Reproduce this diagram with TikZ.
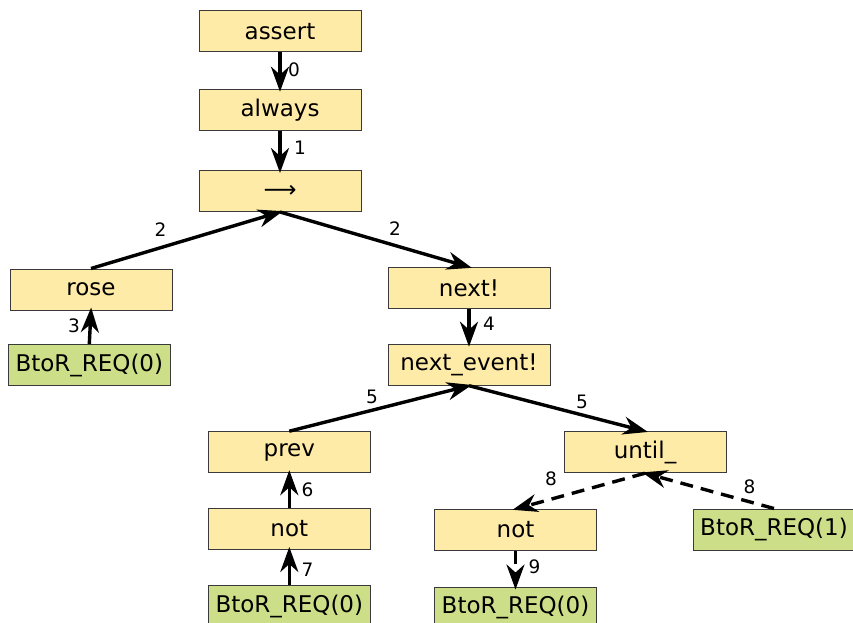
\documentclass[tikz,border=0pt]{standalone}
\usepackage{fontspec}
\setmainfont{DejaVu Sans}
\usetikzlibrary{arrows.meta}
\definecolor{nodeyellow}{HTML}{FFEBA8}
\definecolor{nodegreen}{HTML}{CDDE88}
\definecolor{bordergray}{HTML}{3A3A3A}
\tikzset{
  opbox/.style={draw=bordergray, line width=1pt, fill=nodeyellow, minimum width=162pt, minimum height=41pt, inner sep=0pt, font=\fontsize{23}{28}\selectfont},
  sigbox/.style={opbox, fill=nodegreen},
  lbl/.style={inner sep=0pt, font=\fontsize{18.5}{22}\selectfont},
  edge/.style={line width=3.4pt, -{Stealth[length=25pt, width=18pt, inset=8pt]}, shorten >=-3pt},
  dedge/.style={edge, dash pattern=on 13pt off 8pt}
}
\begin{document}
\begin{tikzpicture}[x=1pt, y=-1pt]
\useasboundingbox (0,0) rectangle (853,623);
\clip (0,0) rectangle (853,623);
% nodes
\node[opbox] (assert) at (280,31.3) {assert};
\node[opbox] (always) at (280,109.7) {always};
\node[opbox] (impl) at (280,191) {\symbol{"27F6}};
\node[opbox] (rose) at (91,289.5) {rose};
\node[opbox] (next) at (469,288) {next!};
\node[sigbox] (btorA) at (89.3,365) {BtoR\_REQ(0)};
\node[opbox] (nextev) at (469,364.7) {next\_event!};
\node[opbox] (prev) at (289.3,452.2) {prev};
\node[opbox] (until) at (645,452.2) {until\_};
\node[opbox] (notL) at (289.3,529) {not};
\node[opbox] (notR) at (515.5,530) {not};
\node[sigbox] (btorB) at (774,529.5) {BtoR\_REQ(1)};
\node[sigbox] (btorC) at (289.3,606) {BtoR\_REQ(0)};
\node[sigbox] (btorD) at (515.5,607.5) {BtoR\_REQ(0)};
% connectors
\draw[edge] (assert.south) -- (always.north);
\draw[edge] (always.south) -- (impl.north);
\draw[edge] (rose.north) -- (impl.south);
\draw[edge] (impl.south) -- (next.north);
\draw[edge] (btorA.north) -- (rose.south);
\draw[edge] (next.south) -- (nextev.north);
\draw[edge] (prev.north) -- (nextev.south);
\draw[edge] (nextev.south) -- (until.north);
\draw[edge] (notL.north) -- (prev.south);
\draw[edge] (btorC.north) -- (notL.south);
\draw[dedge] (until.south) -- (notR.north);
\draw[dedge] (btorB.north) -- (until.south);
\draw[dedge] (notR.south) -- (btorD.north);
% labels
\node[lbl] (l0) at (294,69.5) {0};
\node[lbl] (l1) at (300,147.5) {1};
\node[lbl] (l2a) at (160.5,229.5) {2};
\node[lbl] (l2b) at (395,229) {2};
\node[lbl] (l3) at (74,325.5) {3};
\node[lbl] (l4) at (489,323.5) {4};
\node[lbl] (l5a) at (372,396.5) {5};
\node[lbl] (l5b) at (582,401.5) {5};
\node[lbl] (l6) at (307.5,489.5) {6};
\node[lbl] (l7) at (307.5,569.5) {7};
\node[lbl] (l8a) at (551,479) {8};
\node[lbl] (l8b) at (749.5,487) {8};
\node[lbl] (l9) at (534.5,567) {9};
\end{tikzpicture}
\end{document}
